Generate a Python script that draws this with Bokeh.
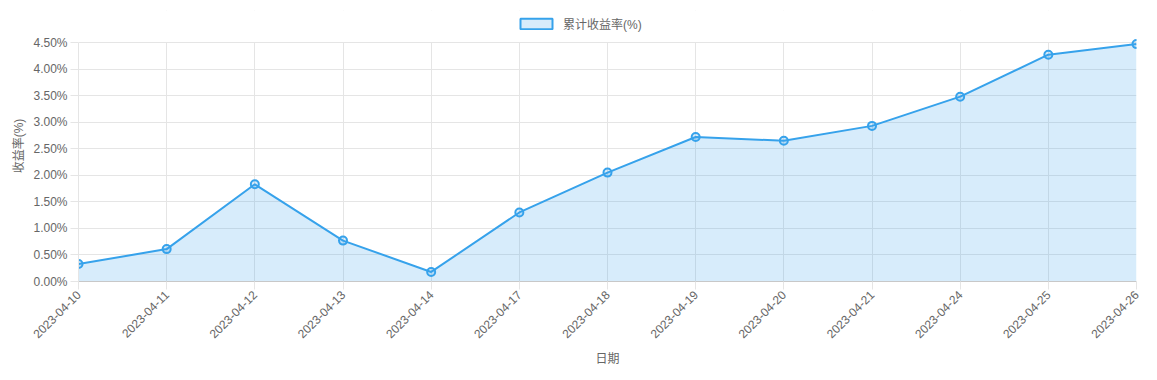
from math import pi
from bokeh.plotting import figure
from bokeh.models import (Range1d, FixedTicker, PrintfTickFormatter, BoxAnnotation,
                          Legend, LegendItem, ColumnDataSource)
from bokeh.embed import file_html
from bokeh.resources import INLINE

dates = ["2023-04-10", "2023-04-11", "2023-04-12", "2023-04-13", "2023-04-14",
         "2023-04-17", "2023-04-18", "2023-04-19", "2023-04-20", "2023-04-21",
         "2023-04-24", "2023-04-25", "2023-04-26"]
returns = [0.33, 0.61, 1.83, 0.77, 0.18, 1.30, 2.05, 2.72, 2.65, 2.93, 3.48, 4.27, 4.47]
y_ticks = [0.0, 0.5, 1.0, 1.5, 2.0, 2.5, 3.0, 3.5, 4.0, 4.5]
series_name = "累计收益率(%)"
y_title = "收益率(%)"
x_title = "日期"

BLUE = "#36A2EB"
FILL = "#36A2EB"
GRID = "#e5e5e5"
TXT = "#666666"
FONT = "Liberation Sans, Noto Sans CJK SC"

W, H = 1157, 380
TOP, BOTTOM, LEFT, RIGHT = 10, 99, 78, 21
PLOT_H = 239                     # pixel height of the 0..4.5 band
FH = H - TOP - BOTTOM            # frame height (includes legend strip)
Y_MAX = y_ticks[-1]
Y_TOP = Y_MAX * FH / PLOT_H

xs = list(range(len(dates)))
src = ColumnDataSource(dict(x=xs, y=returns))

p = figure(width=W, height=H, output_backend="svg", toolbar_location=None,
           x_range=Range1d(0, len(dates) - 1), y_range=Range1d(0, Y_TOP),
           min_border_left=LEFT, min_border_right=RIGHT,
           min_border_top=TOP, min_border_bottom=BOTTOM)
p.outline_line_color = None
p.background_fill_color = "white"
p.border_fill_color = "white"

p.varea(x="x", y1=0, y2="y", source=src, fill_color=FILL, fill_alpha=0.2)
p.line(x="x", y="y", source=src, line_color=BLUE, line_width=2)
p.scatter(x="x", y="y", source=src, size=8, marker="circle",
          line_color=BLUE, line_width=2, fill_color=FILL, fill_alpha=0.2)

# legend swatch renderer (hidden; only its legend glyph is shown)
dummy = p.rect(x=xs[:1], y=returns[:1], width=0, height=0, fill_color=FILL, fill_alpha=0.2,
               line_color=BLUE, line_width=2, visible=False)
legend = Legend(items=[LegendItem(label=series_name, renderers=[dummy])],
                orientation="horizontal", location=(438, PLOT_H + 10),
                border_line_color=None, background_fill_alpha=0,
                label_text_font_size="12px", label_text_color=TXT, label_text_font=FONT,
                glyph_width=40, glyph_height=13, padding=0, margin=0, label_standoff=7,
                label_height=13, click_policy="none")
p.add_layout(legend)

# axes
xa = p.xaxis[0]
xa.ticker = FixedTicker(ticks=xs)
xa.major_label_overrides = {i: d for i, d in enumerate(dates)}
xa.major_label_orientation = pi / 4
xa.axis_label = x_title
ya = p.yaxis[0]
ya.ticker = FixedTicker(ticks=y_ticks)
ya.formatter = PrintfTickFormatter(format="%.2f%%")
ya.axis_label = y_title
ya.bounds = (0, Y_MAX)

for ax in (xa, ya):
    ax.axis_line_color = GRID
    ax.major_tick_line_color = GRID
    ax.major_tick_out = 8
    ax.major_tick_in = 0
    ax.minor_tick_line_color = None
    ax.major_label_text_font_size = "12px"
    ax.major_label_text_color = TXT
    ax.major_label_text_font = FONT
    ax.axis_label_text_font_size = "12px"
    ax.axis_label_text_color = TXT
    ax.axis_label_text_font = FONT
    ax.axis_label_text_font_style = "normal"
    ax.major_label_standoff = 3
xa.axis_line_color = "#c8c8c8"
xa.axis_label_standoff = 7
ya.axis_label_standoff = 4

xg, yg = p.xgrid[0], p.ygrid[0]
xg.ticker = FixedTicker(ticks=xs)
xg.grid_line_color = GRID
yg.ticker = FixedTicker(ticks=y_ticks)
yg.grid_line_color = GRID

# blank out the strip above the 4.5% line (where the legend sits)
cover = BoxAnnotation(bottom=Y_MAX, fill_color="white", fill_alpha=1.0,
                      line_color=None, level="underlay", editable=False)
others = [r for r in p.center if r is not xg and r is not yg]
p.center = [xg, cover, yg] + others

open("out.html", "w").write(file_html(p, INLINE))
